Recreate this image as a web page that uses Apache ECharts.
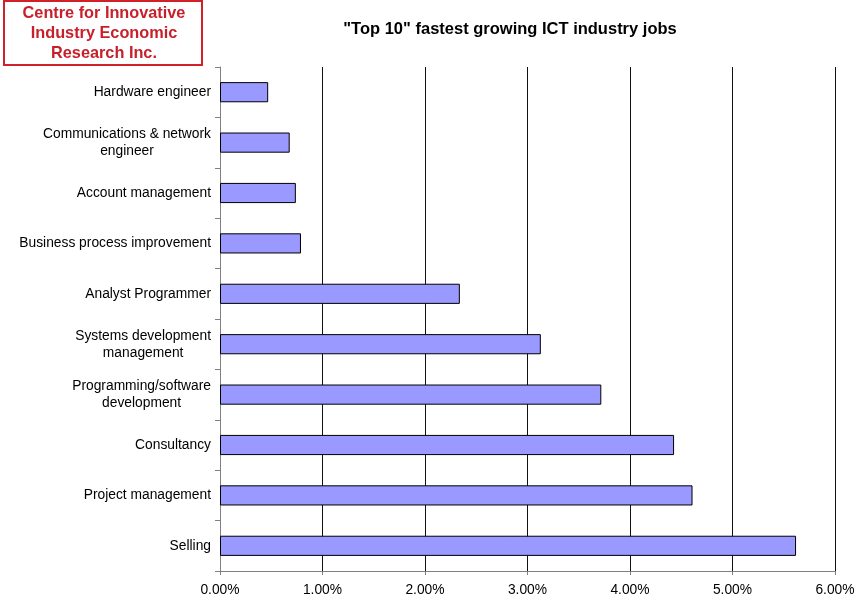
<!DOCTYPE html>
<html>
<head>
<meta charset="utf-8">
<script src="https://cdn.jsdelivr.net/npm/echarts@6/dist/echarts.min.js"></script>
<style>html,body{margin:0;padding:0;background:#fff}#c{width:856px;height:604px}</style>
</head>
<body>
<div id="c"></div>
<script>
var categories = [
  'Hardware engineer',
  'Communications & network\nengineer',
  'Account management',
  'Business process improvement',
  'Analyst Programmer',
  'Systems development\nmanagement',
  'Programming/software\ndevelopment',
  'Consultancy',
  'Project management',
  'Selling'
];
var growthPct = [0.47, 0.68, 0.74, 0.79, 2.34, 3.13, 3.72, 4.43, 4.61, 5.62];
var xTicks = [0, 1, 2, 3, 4, 5, 6];

var FONT = 'Liberation Sans, Arial';
var chart = echarts.init(document.getElementById('c'));
chart.setOption({
  animation: false,
  backgroundColor: '#fff',
  title: {
    text: '"Top 10" fastest growing ICT industry jobs',
    left: 505, top: 16, textAlign: 'center',
    textStyle: { fontFamily: FONT, fontSize: 16.5, fontWeight: 'bold', color: '#000' }
  },
  graphic: [
    { type: 'rect', shape: { x: 4, y: 1, width: 198, height: 64 },
      style: { fill: '#fff', stroke: '#d0202a', lineWidth: 2 } },
    { type: 'text', x: 104, y: 34,
      style: { text: 'Centre for Innovative\nIndustry Economic\nResearch Inc.', align: 'center', verticalAlign: 'middle',
        font: 'bold 16.3px "Liberation Sans", Arial', fill: '#c8202a', lineHeight: 20 } }
  ],
  grid: { left: 220, right: 21, top: 67, bottom: 33, containLabel: false, outerBoundsMode: 'none' },
  xAxis: {
    type: 'value', min: xTicks[0], max: xTicks[xTicks.length - 1], interval: 1,
    axisLine: { show: true, lineStyle: { color: '#808080', width: 1 } },
    axisTick: { show: true, length: 4, lineStyle: { color: '#808080' } },
    axisLabel: { margin: 12, fontFamily: FONT, fontSize: 13.8, color: '#000',
      formatter: function (v) { return v.toFixed(2) + '%'; } },
    splitLine: { show: true, lineStyle: { color: '#111', width: 1 } }
  },
  yAxis: {
    type: 'category', data: categories, inverse: true,
    axisLine: { show: true, lineStyle: { color: '#808080', width: 1 } },
    axisTick: { show: true, length: 5, inside: false, alignWithLabel: false, lineStyle: { color: '#808080' } },
    axisLabel: { margin: 9, fontFamily: FONT, fontSize: 13.8, color: '#000', lineHeight: 17,
      formatter: function (v) {
        return v.split('\n').map(function (s) { return '{c|' + s + '}'; }).join('\n');
      },
      rich: { c: { align: 'center', fontFamily: FONT, fontSize: 13.8, color: '#000', lineHeight: 17 } }
    },
    splitLine: { show: false }
  },
  series: [{
    type: 'bar', data: growthPct, barCategoryGap: '60%',
    itemStyle: { color: '#9999ff', borderColor: '#000', borderWidth: 1 }
  }]
});
</script>
</body>
</html>
